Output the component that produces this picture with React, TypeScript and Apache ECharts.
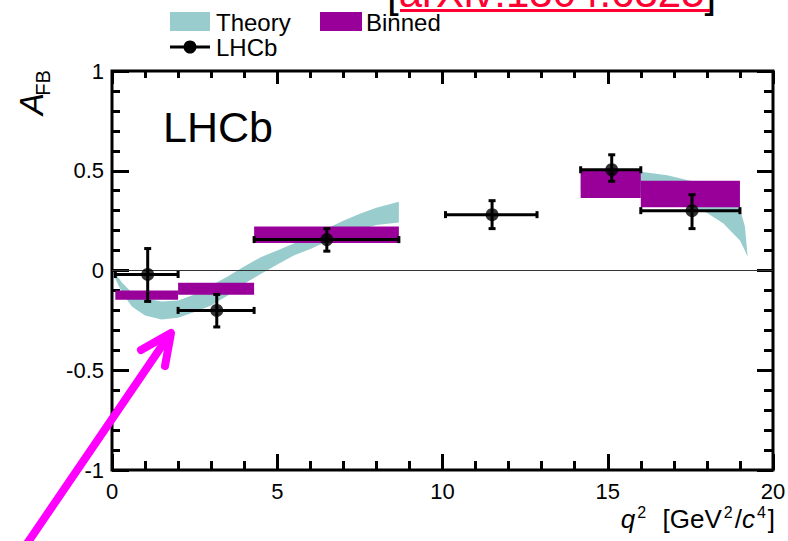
import React, { useEffect, useRef } from "react";
import * as echarts from "echarts";

const FONT = '"Liberation Sans", Arial, Helvetica, sans-serif';

// Axis ranges
const X_MIN = 0;
const X_MAX = 20;
const X_STEP = 5;
const Y_MIN = -1;
const Y_MAX = 1;
const Y_STEP = 0.5;

// LHCb measurement
const LHCB_BIN_LO = [0.1, 2.0, 4.3, 10.09, 14.18, 16.0];
const LHCB_BIN_HI = [2.0, 4.3, 8.68, 12.86, 16.0, 19.0];
const LHCB_Q2 = [1.08, 3.17, 6.5, 11.5, 15.12, 17.55];
const LHCB_AFB = [-0.02, -0.2, 0.155, 0.28, 0.505, 0.3];
const LHCB_ERR_UP = [0.13, 0.08, 0.055, 0.07, 0.075, 0.08];
const LHCB_ERR_DN = [0.135, 0.083, 0.058, 0.07, 0.058, 0.09];

// Binned theory prediction
const BINNED_LO = [0.1, 2.0, 4.3, 14.18, 16.0];
const BINNED_HI = [2.0, 4.3, 8.68, 16.0, 19.0];
const BINNED_MIN = [-0.147, -0.122, 0.138, 0.363, 0.317];
const BINNED_MAX = [-0.1, -0.062, 0.22, 0.5, 0.45];

// Theory band, low-q2 region
const THEORY_LOW_Q2 = [0.1, 0.3, 0.6, 1.0, 1.5, 2.0, 2.5, 3.0, 3.5, 4.0, 4.5, 5.0, 5.5, 6.0, 6.5, 7.0, 7.5, 8.0, 8.68];
const THEORY_LOW_UP = [-0.015, -0.06, -0.11, -0.14, -0.155, -0.15, -0.12, -0.075, -0.03, 0.02, 0.067, 0.1, 0.135, 0.17, 0.21, 0.25, 0.285, 0.315, 0.345];
const THEORY_LOW_DN = [-0.04, -0.11, -0.18, -0.225, -0.245, -0.237, -0.208, -0.175, -0.125, -0.067, -0.017, 0.03, 0.075, 0.108, 0.145, 0.175, 0.205, 0.228, 0.24];

// Theory band, high-q2 region
const THEORY_HIGH_Q2 = [14.18, 15.0, 16.0, 16.8, 17.5, 18.0, 18.5, 19.0, 19.15, 19.23];
const THEORY_HIGH_UP = [0.49, 0.5, 0.495, 0.478, 0.45, 0.42, 0.38, 0.31, 0.22, 0.075];
const THEORY_HIGH_DN = [0.4, 0.4, 0.39, 0.37, 0.325, 0.29, 0.235, 0.15, 0.1, 0.07];

const THEORY_BANDS = [
  { q2: THEORY_LOW_Q2, up: THEORY_LOW_UP, dn: THEORY_LOW_DN },
  { q2: THEORY_HIGH_Q2, up: THEORY_HIGH_UP, dn: THEORY_HIGH_DN },
];

const TEAL = "#99cccc";
const PURPLE = "#990099";
const MAGENTA = "#ff00ff";
const RED = "#ff0033";

function buildOption() {
  const bandData = THEORY_BANDS.map((b) => [b.q2[0], b.up[0]]);
  const binnedData = BINNED_LO.map((lo, i) => [lo, BINNED_HI[i], BINNED_MIN[i], BINNED_MAX[i]]);
  const errData = LHCB_Q2.map((x, i) => [
    x,
    LHCB_AFB[i],
    LHCB_BIN_LO[i],
    LHCB_BIN_HI[i],
    LHCB_AFB[i] - LHCB_ERR_DN[i],
    LHCB_AFB[i] + LHCB_ERR_UP[i],
  ]);
  const pointData = LHCB_Q2.map((x, i) => [x, LHCB_AFB[i]]);

  const tickStyle = { color: "#000", width: 3 };
  const labelStyle = { color: "#000", fontSize: 22, fontFamily: FONT };

  const xBase = {
    type: "value",
    min: X_MIN,
    max: X_MAX,
    interval: X_STEP,
    gridIndex: 0,
    axisLine: { show: false, onZero: false },
    splitLine: { show: false },
    minorSplitLine: { show: false },
  };
  const yBase = {
    type: "value",
    min: Y_MIN,
    max: Y_MAX,
    interval: Y_STEP,
    gridIndex: 0,
    axisLine: { show: false, onZero: false },
    splitLine: { show: false },
    minorSplitLine: { show: false },
  };

  return {
    animation: false,
    backgroundColor: "#ffffff",
    textStyle: { fontFamily: FONT },
    grid: {
      left: 112,
      right: 15,
      top: 71,
      bottom: 71,
      show: true,
      borderColor: "#000",
      borderWidth: 3,
      backgroundColor: "transparent",
      containLabel: false,
      outerBoundsMode: "none",
    },
    xAxis: [
      {
        ...xBase,
        position: "bottom",
        axisTick: { show: true, inside: true, length: 16, lineStyle: tickStyle },
        minorTick: { show: true, splitNumber: 5, length: 9, lineStyle: tickStyle },
        axisLabel: { ...labelStyle, show: true, margin: 10, showMinLabel: true, showMaxLabel: true },
      },
      {
        ...xBase,
        position: "top",
        axisTick: { show: true, inside: true, length: 13, lineStyle: tickStyle },
        minorTick: { show: true, splitNumber: 5, length: 7, lineStyle: tickStyle },
        axisLabel: { show: false },
      },
    ],
    yAxis: [
      {
        ...yBase,
        position: "left",
        axisTick: { show: true, inside: true, length: 17, lineStyle: tickStyle },
        minorTick: { show: true, splitNumber: 5, length: 8, lineStyle: tickStyle },
        axisLabel: { ...labelStyle, show: true, margin: 8, showMinLabel: true, showMaxLabel: true },
      },
      {
        ...yBase,
        position: "right",
        axisTick: { show: true, inside: true, length: 16, lineStyle: tickStyle },
        minorTick: { show: true, splitNumber: 5, length: 9, lineStyle: tickStyle },
        axisLabel: { show: false },
      },
    ],
    series: [
      {
        name: "Theory",
        type: "custom",
        xAxisIndex: 0,
        yAxisIndex: 0,
        z: 1,
        silent: true,
        data: bandData,
        renderItem: (params: any, api: any) => {
          const b = THEORY_BANDS[params.dataIndex];
          const pts: number[][] = [];
          for (let i = 0; i < b.q2.length; i++) pts.push(api.coord([b.q2[i], b.up[i]]));
          for (let i = b.q2.length - 1; i >= 0; i--) pts.push(api.coord([b.q2[i], b.dn[i]]));
          return { type: "polygon", shape: { points: pts }, style: { fill: TEAL, stroke: null } };
        },
      },
      {
        name: "zero",
        type: "line",
        xAxisIndex: 0,
        yAxisIndex: 0,
        z: 2,
        silent: true,
        symbol: "none",
        data: [
          [X_MIN, 0],
          [X_MAX, 0],
        ],
        lineStyle: { color: "#333", width: 1 },
      },
      {
        name: "Binned",
        type: "custom",
        xAxisIndex: 0,
        yAxisIndex: 0,
        z: 3,
        silent: true,
        data: binnedData,
        encode: { x: [0, 1], y: [2, 3] },
        renderItem: (params: any, api: any) => {
          const p1 = api.coord([api.value(0), api.value(3)]);
          const p2 = api.coord([api.value(1), api.value(2)]);
          return {
            type: "rect",
            shape: { x: p1[0], y: p1[1], width: p2[0] - p1[0], height: p2[1] - p1[1] },
            style: { fill: PURPLE, stroke: null },
          };
        },
      },
      {
        name: "LHCb errors",
        type: "custom",
        xAxisIndex: 0,
        yAxisIndex: 0,
        z: 4,
        silent: true,
        data: errData,
        encode: { x: [0, 2, 3], y: [1, 4, 5] },
        renderItem: (params: any, api: any) => {
          const x = api.value(0);
          const y = api.value(1);
          const l = api.coord([api.value(2), y]);
          const r = api.coord([api.value(3), y]);
          const b = api.coord([x, api.value(4)]);
          const t = api.coord([x, api.value(5)]);
          const cap = 3.5;
          const st = { stroke: "#000", lineWidth: 3 };
          const ln = (x1: number, y1: number, x2: number, y2: number) => ({
            type: "line",
            shape: { x1, y1, x2, y2 },
            style: st,
          });
          return {
            type: "group",
            children: [
              ln(l[0], l[1], r[0], r[1]),
              ln(t[0], t[1], b[0], b[1]),
              ln(l[0], l[1] - cap, l[0], l[1] + cap),
              ln(r[0], r[1] - cap, r[0], r[1] + cap),
              ln(t[0] - cap, t[1], t[0] + cap, t[1]),
              ln(b[0] - cap, b[1], b[0] + cap, b[1]),
            ],
          };
        },
      },
      {
        name: "LHCb",
        type: "scatter",
        xAxisIndex: 0,
        yAxisIndex: 0,
        z: 5,
        silent: true,
        symbol: "circle",
        symbolSize: 13,
        itemStyle: { color: "#000" },
        data: pointData,
      },
    ],
    graphic: [
      // arXiv reference (cut at the top edge, as in the original)
      {
        type: "text",
        x: 387,
        y: -7.5,
        z: 10,
        style: {
          text: "{b|[}{r|arXiv:1304.6325}{b|]}",
          align: "left",
          verticalAlign: "middle",
          font: `42px ${FONT}`,
          lineHeight: 28,
          rich: {
            b: { fill: "#000", fontSize: 42, fontFamily: FONT, lineHeight: 28 },
            r: { fill: RED, fontSize: 42, fontFamily: FONT, lineHeight: 28 },
          },
        },
      },
      {
        type: "line",
        z: 10,
        shape: { x1: 400, y1: 10.5, x2: 710, y2: 10.5 },
        style: { stroke: RED, lineWidth: 3 },
      },
      // legend
      { type: "rect", z: 10, shape: { x: 170, y: 12, width: 40, height: 19 }, style: { fill: TEAL } },
      {
        type: "text",
        x: 216,
        y: 22,
        z: 10,
        style: { text: "Theory", fill: "#000", font: `24px ${FONT}`, align: "left", verticalAlign: "middle" },
      },
      { type: "rect", z: 10, shape: { x: 320, y: 12, width: 42, height: 19 }, style: { fill: PURPLE } },
      {
        type: "text",
        x: 366,
        y: 22,
        z: 10,
        style: { text: "Binned", fill: "#000", font: `24px ${FONT}`, align: "left", verticalAlign: "middle" },
      },
      {
        type: "line",
        z: 10,
        shape: { x1: 170, y1: 47, x2: 210, y2: 47 },
        style: { stroke: "#000", lineWidth: 3 },
      },
      { type: "circle", z: 10, shape: { cx: 190, cy: 47, r: 6.5 }, style: { fill: "#000" } },
      {
        type: "text",
        x: 216,
        y: 47,
        z: 10,
        style: { text: "LHCb", fill: "#000", font: `24px ${FONT}`, align: "left", verticalAlign: "middle" },
      },
      // LHCb label in plot
      {
        type: "text",
        x: 163,
        y: 127,
        z: 10,
        style: { text: "LHCb", fill: "#000", font: `43px ${FONT}`, align: "left", verticalAlign: "middle" },
      },
      // y-axis title A_FB
      {
        type: "text",
        x: 31,
        y: 104,
        rotation: Math.PI / 2,
        z: 10,
        style: { text: "A", fill: "#000", font: `italic 33px ${FONT}`, align: "center", verticalAlign: "middle" },
      },
      {
        type: "text",
        x: 43,
        y: 83,
        rotation: Math.PI / 2,
        z: 10,
        style: { text: "FB", fill: "#000", font: `20px ${FONT}`, align: "center", verticalAlign: "middle" },
      },
      // x-axis title
      {
        type: "text",
        x: 775,
        y: 504,
        z: 10,
        style: {
          text: "{q|q}{s|2}{n|  [GeV}{s|2}{n|/}{q|c}{s|4}{n|]}",
          align: "right",
          verticalAlign: "top",
          font: `26px ${FONT}`,
          rich: {
            n: { fill: "#000", fontSize: 26, fontFamily: FONT, lineHeight: 30 },
            q: { fill: "#000", fontSize: 26, fontFamily: FONT, fontStyle: "italic", lineHeight: 30 },
            s: {
              fill: "#000",
              fontSize: 16,
              fontFamily: FONT,
              lineHeight: 15,
              verticalAlign: "top",
              padding: [0, 2, 0, 2],
            },
          },
        },
      },
      // magenta arrow
      {
        type: "polyline",
        z: 20,
        shape: {
          points: [
            [24, 548],
            [170, 334],
          ],
        },
        style: { stroke: MAGENTA, lineWidth: 8, lineCap: "round", fill: null },
      },
      {
        type: "polyline",
        z: 20,
        shape: {
          points: [
            [141, 350],
            [171, 333],
            [165, 366],
          ],
        },
        style: { stroke: MAGENTA, lineWidth: 8, lineCap: "round", lineJoin: "round", fill: null },
      },
    ],
  };
}

export default function App() {
  const ref = useRef<HTMLDivElement | null>(null);
  useEffect(() => {
    document.body.style.margin = "0";
    if (!ref.current) return;
    const chart = echarts.init(ref.current, null, { renderer: "svg" });
    chart.setOption(buildOption() as any);
    return () => chart.dispose();
  }, []);
  return (
    <div
      ref={ref}
      style={{ position: "absolute", left: 0, top: 0, width: 788, height: 541, background: "#fff" }}
    />
  );
}
